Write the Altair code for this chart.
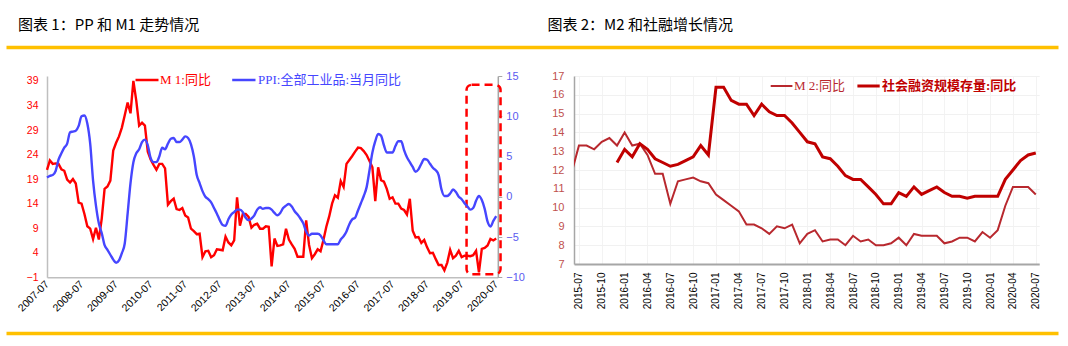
import json
import altair as alt
import pandas as pd

# ---------------- text ----------------
LEFT_TITLE = "图表 1：PP 和 M1 走势情况"
RIGHT_TITLE = "图表 2：M2 和社融增长情况"
M1_NAME = "M 1:同比"
PPI_NAME = "PPI:全部工业品:当月同比"
M2_NAME = "M 2:同比"
SF_NAME = "社会融资规模存量:同比"

# ---------------- left panel data (monthly, from 2007-07) ----------------
left_tick_labels = ["2007-07", "2008-07", "2009-07", "2010-07", "2011-07", "2012-07", "2013-07",
                    "2014-07", "2015-07", "2016-07", "2017-07", "2018-07", "2019-07", "2020-07"]

m1_yoy = [
    20.9, 22.8, 22.1, 22.2, 22.1, 21.0,
    20.7, 18.9, 18.3, 19.0, 18.1, 14.2, 14.0, 11.9, 9.4, 8.9, 6.8, 9.1,
    6.7, 10.9, 17.0, 17.5, 18.7, 24.8, 26.4, 27.7, 29.5, 32.0, 34.6, 32.4,
    39.0, 35.0, 29.9, 30.5, 29.9, 24.6, 23.0, 21.9, 20.9, 22.1, 22.1, 21.2,
    13.8, 14.5, 15.0, 12.9, 12.7, 13.1, 11.6, 11.2, 8.9, 8.4, 7.8, 7.9,
    3.1, 4.3, 4.4, 3.1, 3.5, 4.7, 4.6, 4.5, 7.3, 6.1, 5.5, 6.5,
    15.3, 9.5, 11.9, 11.9, 11.3, 9.1, 9.7, 9.9, 8.9, 8.9, 9.4, 9.3,
    1.2, 6.9, 5.4, 5.5, 5.7, 8.9, 6.7, 5.7, 4.8, 3.2, 3.2, 3.2,
    10.6, 5.6, 2.9, 3.7, 4.7, 4.3, 6.6, 9.3, 11.4, 14.0, 15.7, 15.2,
    18.6, 17.4, 22.1, 22.9, 23.7, 24.6, 25.4, 25.3, 24.7, 23.9, 22.7, 21.4,
    14.5, 21.4, 18.8, 18.5, 17.0, 15.0, 15.3, 14.0, 14.0, 13.0, 12.7, 11.8,
    15.0, 8.5, 7.1, 7.2, 6.0, 6.6, 5.1, 3.9, 4.0, 2.7, 1.5, 1.5,
    0.4, 2.0, 4.6, 2.9, 3.4, 4.4, 3.1, 3.4, 3.4, 3.3, 3.5, 4.4,
    0.0, 4.8, 5.0, 5.5, 6.8, 6.5, 6.9,
]

ppi_yoy = [
    2.4, 2.6, 2.7, 3.2, 4.6, 5.4,
    6.1, 6.6, 8.0, 8.1, 8.2, 8.8, 10.0, 10.1, 9.1, 6.6, 2.0, -1.1,
    -3.3, -4.5, -6.0, -6.6, -7.2, -7.8, -8.2, -7.9, -7.0, -5.8, -2.1, 1.7,
    4.3, 5.4, 5.9, 6.8, 7.1, 6.4, 4.8, 4.3, 4.3, 5.0, 6.1, 5.9,
    6.6, 7.2, 7.3, 6.8, 6.8, 7.1, 7.5, 7.3, 6.5, 5.0, 2.7, 1.7,
    0.7, 0.0, -0.3, -0.7, -1.4, -2.1, -2.9, -3.5, -3.6, -2.8, -2.2, -1.9,
    -1.6, -1.6, -1.9, -2.6, -2.9, -2.7, -2.3, -1.6, -1.3, -1.5, -1.4, -1.4,
    -1.6, -2.0, -2.3, -2.0, -1.4, -1.1, -0.9, -1.2, -1.8, -2.2, -2.7, -3.3,
    -4.3, -4.8, -4.6, -4.6, -4.6, -4.8, -5.4, -5.9, -5.9, -5.9, -5.9, -5.9,
    -5.3, -4.9, -4.3, -3.4, -2.8, -2.6, -1.7, -0.8, 0.1, 1.2, 3.3, 5.5,
    6.9, 7.8, 7.6, 6.4, 5.5, 5.5, 5.5, 6.3, 6.9, 6.9, 5.8, 4.9,
    4.3, 3.7, 3.1, 3.4, 4.1, 4.7, 4.6, 4.1, 3.6, 3.3, 2.7, 0.9,
    0.1, 0.1, 0.4, 0.9, 0.6, 0.0, -0.3, -0.8, -1.2, -1.6, -1.4, -0.5,
    0.1, -0.4, -1.5, -3.1, -3.7, -3.0, -2.4,
]

# highlighted window (red dashed box), in month index / M1 axis units
box_months = [145.7, 157.5]
box_m1 = [-0.4, 38.2]

# ---------------- right panel data (monthly, from 2015-06) ----------------
right_tick_labels = ["2015-07", "2015-10", "2016-01", "2016-04", "2016-07", "2016-10", "2017-01",
                     "2017-04", "2017-07", "2017-10", "2018-01", "2018-04", "2018-07", "2018-10",
                     "2019-01", "2019-04", "2019-07", "2019-10", "2020-01", "2020-04", "2020-07"]

m2_yoy = [
    11.8, 13.3, 13.3, 13.1, 13.5, 13.7, 13.3,
    14.0, 13.3, 13.4, 12.8, 11.8, 11.8, 10.2, 11.4, 11.5, 11.6, 11.4, 11.3,
    10.7, 10.4, 10.1, 9.8, 9.1, 9.1, 8.9, 8.6, 9.0, 8.9, 9.1, 8.1,
    8.6, 8.8, 8.2, 8.3, 8.3, 8.0, 8.5, 8.2, 8.3, 8.0, 8.0, 8.1,
    8.4, 8.0, 8.6, 8.5, 8.5, 8.5, 8.1, 8.2, 8.4, 8.4, 8.2, 8.7,
    8.4, 8.8, 10.1, 11.1, 11.1, 11.1, 10.7,
]

sf_start = 6  # 2015-12
sf_yoy = [
    12.4,
    13.1, 12.7, 13.4, 13.1, 12.6, 12.4, 12.2, 12.3, 12.5, 12.7, 13.3, 12.8,
    16.4, 16.4, 15.7, 15.5, 15.5, 14.9, 15.5, 15.1, 14.9, 14.9, 14.5, 14.0,
    13.5, 13.4, 12.7, 12.6, 12.2, 11.7, 11.5, 11.5, 11.1, 10.7, 10.2, 10.2,
    10.8, 10.6, 11.1, 10.7, 10.9, 11.1, 10.8, 10.6, 10.6, 10.5, 10.6, 10.6,
    10.6, 10.6, 11.5, 12.0, 12.5, 12.8, 12.9,
]

# ---------------- styling ----------------
NUM_FONT = "Liberation Sans"
CJK_FONT = "Noto Sans CJK SC"
LEG_FONT = "Liberation Serif, Noto Sans CJK SC"
RED = "#FF0000"
BLUE = "#4646FF"
BLUE_LABEL = "#5B5BEF"
M2_COLOR = "#B8282E"
SF_COLOR = "#C00000"
GOLD = "#FFC000"
AXIS_GRAY = "#BFBFBF"

W_L, H_L = 450.8, 201.3
W_R, H_R = 465.2, 188
GAP = 76

one_row = alt.Data(values=[{"k": 0}])

# ================= LEFT PANEL =================
df_left = pd.DataFrame({"m": list(range(len(m1_yoy))), "M1": m1_yoy, "PPI": ppi_yoy})
df_box = pd.DataFrame({"x0": [box_months[0]], "x1": [box_months[1]],
                       "y0": [box_m1[0]], "y1": [box_m1[1]]})

x_scale_l = alt.Scale(domain=[0, 156.55], nice=False, zero=False)
x_axis_l = alt.Axis(
    values=[12 * i for i in range(len(left_tick_labels))],
    labelExpr=f"{json.dumps(left_tick_labels)}[round(datum.value/12)]",
    labelAngle=-45, labelAlign="right", labelBaseline="middle",
    labelFontSize=10.5, labelFont=NUM_FONT, labelColor="#000000", labelPadding=5,
    labelFlush=False, labelOverlap=False, ticks=False, grid=False,
    domainColor=AXIS_GRAY, domainWidth=1.5, title=None,
)
y_scale_m1 = alt.Scale(domain=[-1, 40], nice=False, zero=False)
y_axis_m1 = alt.Axis(
    values=list(range(-1, 40, 5)), labelColor=RED, labelFontSize=10.5, labelFont=NUM_FONT,
    labelPadding=9, ticks=False, grid=False, domainColor=AXIS_GRAY, domainWidth=1.5,
    title=None, labelFlush=False, labelOverlap=False,
)
y_scale_ppi = alt.Scale(domain=[-10, 15], nice=False, zero=False)
y_axis_ppi = alt.Axis(
    orient="right", values=[-10, -5, 0, 5, 10, 15], labelColor=BLUE_LABEL, labelFontSize=11,
    labelFont=NUM_FONT, tickColor="#A6A6A6", tickSize=4, labelPadding=4,
    domainColor="#A6A6A6", domainWidth=1.5, grid=False, title=None,
    labelFlush=False, labelOverlap=False,
)

m1_line = alt.Chart(df_left).mark_line(color=RED, strokeWidth=2.4).encode(
    x=alt.X("m:Q", scale=x_scale_l, axis=x_axis_l),
    y=alt.Y("M1:Q", scale=y_scale_m1, axis=y_axis_m1),
)
box = alt.Chart(df_box).mark_rect(
    fillOpacity=0, stroke=RED, strokeWidth=2.5, strokeDash=[8, 5], cornerRadius=5
).encode(
    x=alt.X("x0:Q", scale=x_scale_l, axis=x_axis_l), x2="x1:Q",
    y=alt.Y("y0:Q", scale=y_scale_m1, axis=y_axis_m1), y2="y1:Q",
)
left_m1_layer = alt.layer(m1_line, box)

ppi_line = alt.Chart(df_left).mark_line(color=BLUE, strokeWidth=2.4, interpolate="monotone").encode(
    x=alt.X("m:Q", scale=x_scale_l, axis=x_axis_l),
    y=alt.Y("PPI:Q", scale=y_scale_ppi, axis=y_axis_ppi),
)

# decorations of the left panel (pixel positions relative to the left plot area)
anchor = alt.Chart(one_row).mark_rule(opacity=0).encode(
    x=alt.value(-46.5), y=alt.value(-76), y2=alt.value(-75))
gold_top = alt.Chart(one_row).mark_rule(color=GOLD, strokeWidth=3.5).encode(
    x=alt.value(-40.5), x2=alt.value(1011.5), y=alt.value(-28.5))
gold_bottom = alt.Chart(one_row).mark_rule(color=GOLD, strokeWidth=3.5).encode(
    x=alt.value(-40.5), x2=alt.value(1011.5), y=alt.value(257.5))
title_l = alt.Chart(one_row).mark_text(
    align="left", baseline="middle", font=CJK_FONT, fontSize=15, color="#000000"
).encode(x=alt.value(-29), y=alt.value(-51), text=alt.value(LEFT_TITLE))
leg_m1_line = alt.Chart(one_row).mark_rule(color=RED, strokeWidth=2.5).encode(
    x=alt.value(88.5), x2=alt.value(111.5), y=alt.value(4))
leg_m1_text = alt.Chart(one_row).mark_text(
    align="left", baseline="middle", font=LEG_FONT, fontSize=13, color=RED
).encode(x=alt.value(113), y=alt.value(4), text=alt.value(M1_NAME))
leg_ppi_line = alt.Chart(one_row).mark_rule(color=BLUE, strokeWidth=2.5).encode(
    x=alt.value(185.2), x2=alt.value(208.5), y=alt.value(4))
leg_ppi_text = alt.Chart(one_row).mark_text(
    align="left", baseline="middle", font=LEG_FONT, fontSize=13, color=BLUE
).encode(x=alt.value(211), y=alt.value(4), text=alt.value(PPI_NAME))

left = alt.layer(
    left_m1_layer, ppi_line,
    anchor, gold_top, gold_bottom, title_l,
    leg_m1_line, leg_m1_text, leg_ppi_line, leg_ppi_text,
).resolve_scale(y="independent").properties(width=W_L, height=H_L)

# ================= RIGHT PANEL =================
df_m2 = pd.DataFrame({"m": list(range(len(m2_yoy))), "v": m2_yoy})
df_sf = pd.DataFrame({"m": list(range(sf_start, sf_start + len(sf_yoy))), "v": sf_yoy})

x_scale_r = alt.Scale(domain=[0.35, 61.45], nice=False, zero=False)
x_axis_r = alt.Axis(
    values=[1 + 3 * i for i in range(len(right_tick_labels))],
    labelExpr=f"{json.dumps(right_tick_labels)}[round((datum.value-1)/3)]",
    labelAngle=-90, labelAlign="right", labelBaseline="middle",
    labelFontSize=10, labelFont=NUM_FONT, labelColor="#000000", labelPadding=8,
    labelFlush=False, labelOverlap=False, ticks=False,
    grid=True, gridColor="#F3F3F3", gridWidth=1,
    domainColor="#A6A6A6", domainWidth=2, title=None,
)
y_scale_r = alt.Scale(domain=[7, 17], nice=False, zero=False)
y_axis_r = alt.Axis(
    values=list(range(7, 18)), labelColor="#C0504D", labelFontSize=11, labelFont=NUM_FONT,
    labelPadding=10, ticks=False, grid=True, gridColor="#F1F1F1", gridWidth=1,
    domainColor="#A6A6A6", domainWidth=1.5, title=None,
    labelFlush=False, labelOverlap=False,
)

m2_line = alt.Chart(df_m2).mark_line(color=M2_COLOR, strokeWidth=2, clip=True).encode(
    x=alt.X("m:Q", scale=x_scale_r, axis=x_axis_r),
    y=alt.Y("v:Q", scale=y_scale_r, axis=y_axis_r),
)
sf_line = alt.Chart(df_sf).mark_line(color=SF_COLOR, strokeWidth=3).encode(
    x=alt.X("m:Q", scale=x_scale_r, axis=x_axis_r),
    y=alt.Y("v:Q", scale=y_scale_r, axis=y_axis_r),
)
title_r = alt.Chart(one_row).mark_text(
    align="left", baseline="middle", font=CJK_FONT, fontSize=15, color="#000000"
).encode(x=alt.value(-26.6), y=alt.value(-51), text=alt.value(RIGHT_TITLE))
leg_m2_line = alt.Chart(one_row).mark_rule(color=M2_COLOR, strokeWidth=2).encode(
    x=alt.value(196.7), x2=alt.value(218.4), y=alt.value(10))
leg_m2_text = alt.Chart(one_row).mark_text(
    align="left", baseline="middle", font=LEG_FONT, fontSize=13, color=M2_COLOR
).encode(x=alt.value(220), y=alt.value(10), text=alt.value(M2_NAME))
leg_sf_line = alt.Chart(one_row).mark_rule(color=SF_COLOR, strokeWidth=3).encode(
    x=alt.value(283.4), x2=alt.value(305.7), y=alt.value(10))
leg_sf_text = alt.Chart(one_row).mark_text(
    align="left", baseline="middle", font=LEG_FONT, fontSize=13, color=SF_COLOR, fontWeight="bold"
).encode(x=alt.value(308), y=alt.value(10), text=alt.value(SF_NAME))

right = alt.layer(
    m2_line, sf_line, title_r, leg_m2_line, leg_m2_text, leg_sf_line, leg_sf_text
).properties(width=W_R, height=H_R)

chart = alt.hconcat(left, right, spacing=GAP, bounds="flush").properties(
    padding=0, background="white"
).configure_view(strokeWidth=0)

chart.save("out.html", embed_options={"renderer": "svg", "actions": False})
